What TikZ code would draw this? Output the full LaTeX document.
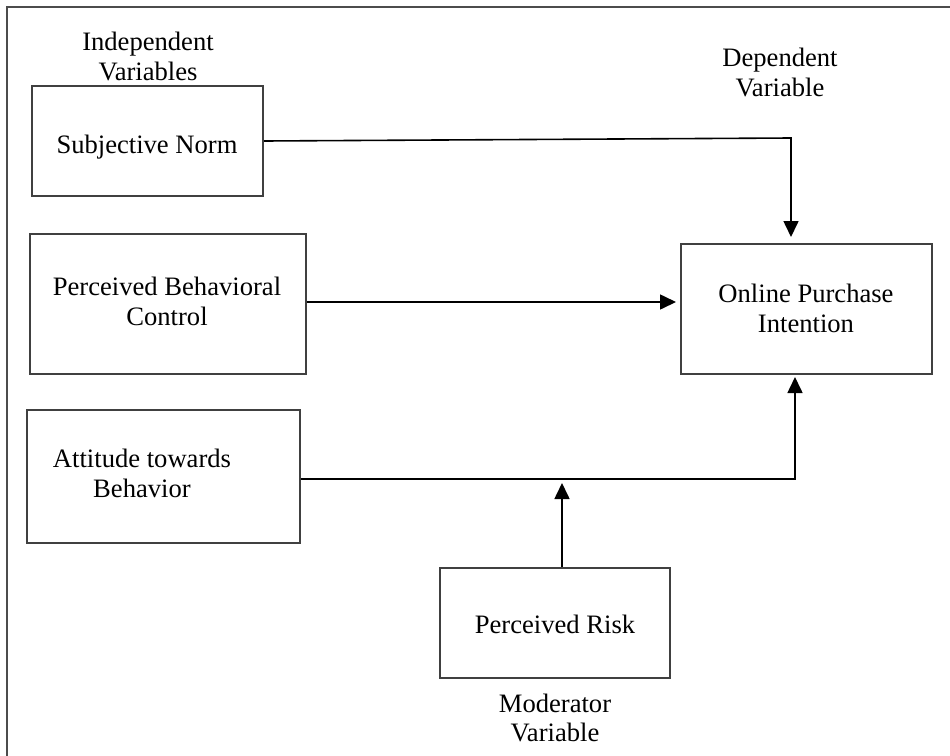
\documentclass[tikz,border=0pt]{standalone}
\usepackage{fontspec}
\setmainfont{Liberation Serif}
\usetikzlibrary{arrows.meta}
\begin{document}
\begin{tikzpicture}[x=1pt,y=-1pt,
  box/.style={draw=black!75,line width=2pt,rectangle,inner sep=0pt},
  lbl/.style={anchor=base,inner sep=0pt,font=\fontsize{26.6}{30}\selectfont},
  conn/.style={draw=black,line width=1.6pt},
  arr/.style={conn,-{Triangle[length=16pt,width=15pt]}},
  frame/.style={draw=black!70,line width=2.6pt}]
\useasboundingbox (0,0) rectangle (950,755);
\fill[white] (0,0) rectangle (950,755);
% outer frame (top and left edges)
\draw[frame] (7,756) -- (7,7) -- (951,7);

% boxes
\node[box,minimum width=231pt,minimum height=110pt] (sn)  at (147.5,141) {};
\node[box,minimum width=276pt,minimum height=140pt] (pbc) at (168,304) {};
\node[box,minimum width=273pt,minimum height=133pt] (att) at (163.5,476.5) {};
\node[box,minimum width=251pt,minimum height=130pt] (opi) at (806.5,309) {};
\node[box,minimum width=230pt,minimum height=110pt] (pr)  at (555,623) {};

% texts (one node per printed line, placed on its baseline)
\node[lbl] (tind1) at (148,50)  {Independent};
\node[lbl] (tind2) at (148,80)  {Variables};
\node[lbl] (tdep1) at (780,66)  {Dependent};
\node[lbl] (tdep2) at (780,96)  {Variable};
\node[lbl] (tmod1) at (555,712) {Moderator};
\node[lbl] (tmod2) at (555,741) {Variable};
\node[lbl] (tsn)   at (147,153) {Subjective Norm};
\node[lbl] (tpbc1) at (167,295) {Perceived Behavioral};
\node[lbl] (tpbc2) at (167,325) {Control};
\node[lbl] (topi1) at (806,302) {Online Purchase};
\node[lbl] (topi2) at (806,332) {Intention};
\node[lbl] (tatt1) at (142,467) {Attitude towards};
\node[lbl] (tatt2) at (142,497) {Behavior};
\node[lbl] (tpr)   at (555,633) {Perceived Risk};

% connectors
\coordinate (k1) at (791,138);
\coordinate (k2) at (795,479);
\draw[arr,shorten >=6pt] (sn.east) -- (k1) -- (k1 |- opi.north);
\draw[arr,shorten >=4pt] ([yshift=2pt]pbc.east) -- ([yshift=2pt]pbc.east -| opi.west);
\draw[arr,shorten >=2pt] ([yshift=-2.5pt]att.east) -- (k2) -- (k2 |- opi.south);
\draw[arr,shorten >=4pt] ([xshift=7pt]pr.north) -- ([xshift=7pt]pr.north |- k2);
\end{tikzpicture}
\end{document}
